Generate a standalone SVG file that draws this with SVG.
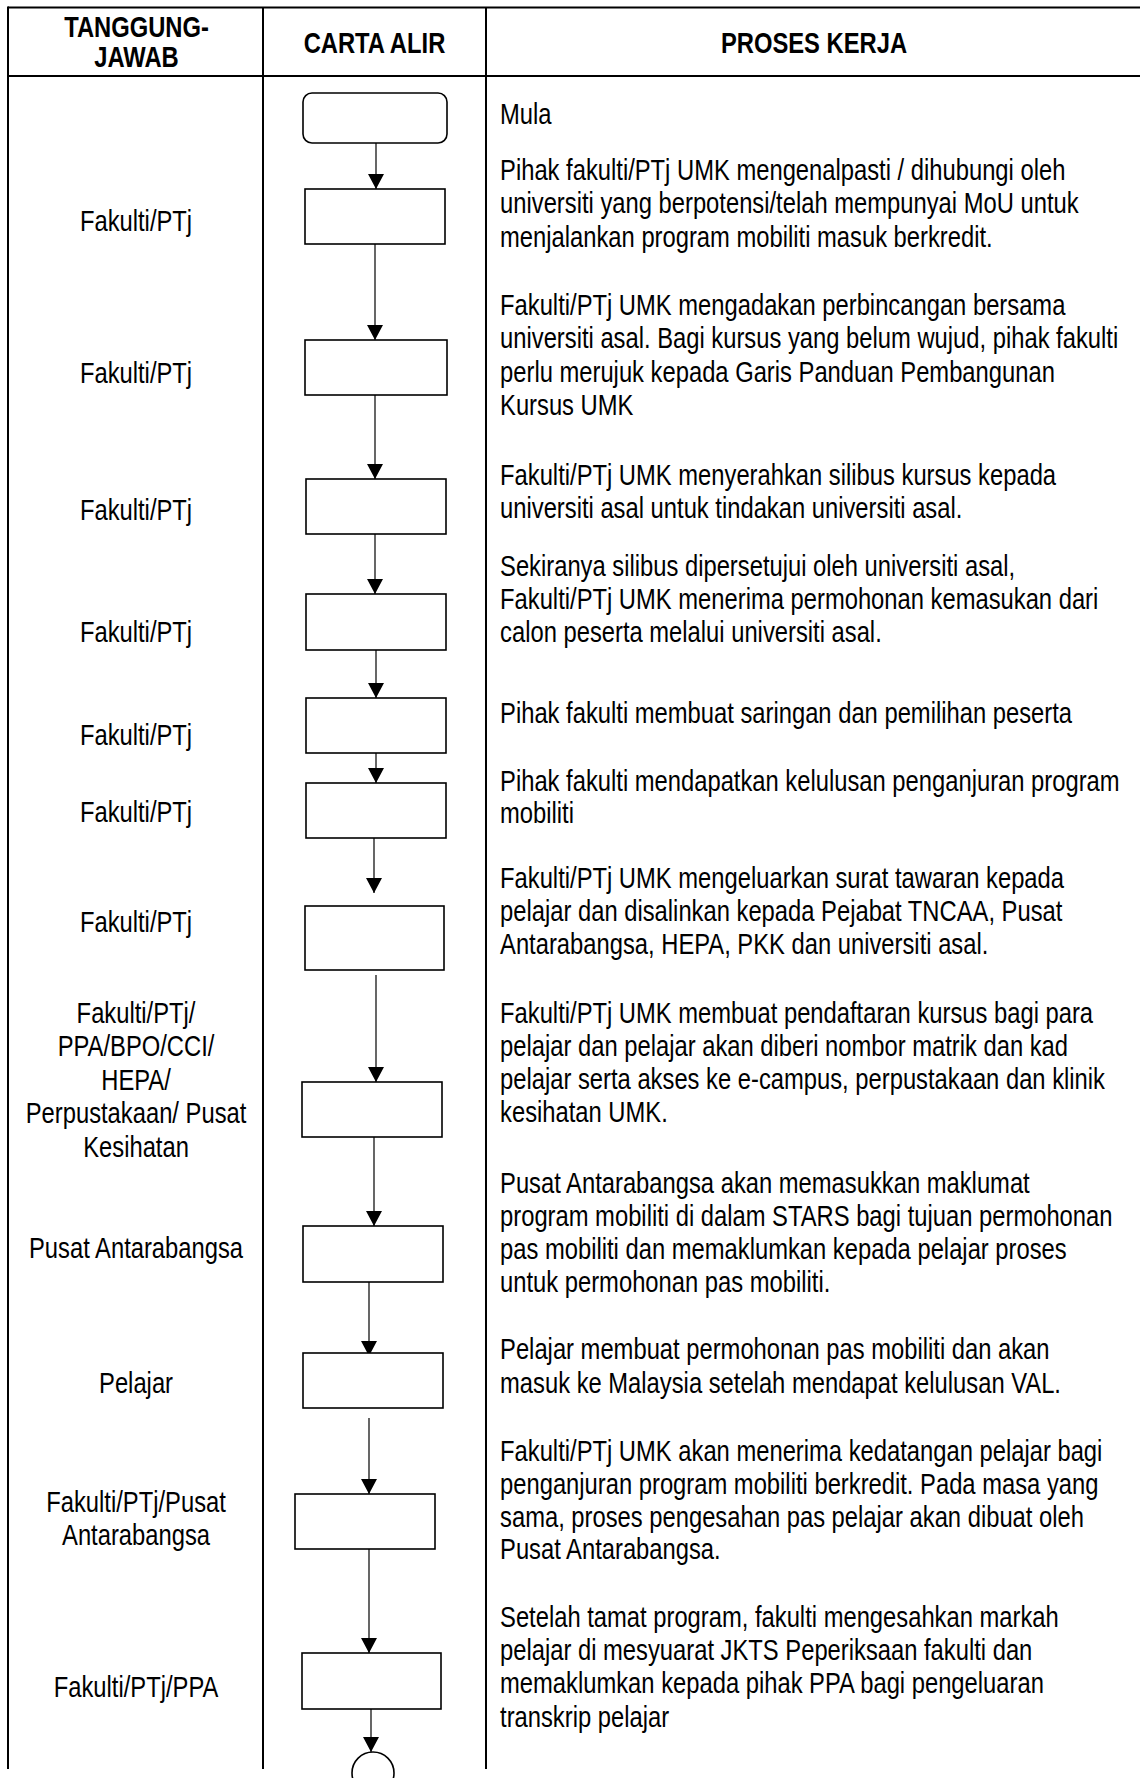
<svg xmlns="http://www.w3.org/2000/svg" width="1140" height="1778" viewBox="0 0 1140 1778">
<style>
.grid{stroke:#000;stroke-width:2;fill:none}
.box{fill:#fff;stroke:#000;stroke-width:1.6}
.conn{stroke:#000;stroke-width:1.2;fill:none;marker-end:url(#arr)}
.t{font-family:"Liberation Sans",Arial,sans-serif;font-size:29px;fill:#000}
.h{font-weight:bold}
.c{text-anchor:middle}
</style>
<defs>
<marker id="arr" viewBox="0 0 15 16" refX="15" refY="8" markerWidth="15" markerHeight="16" markerUnits="userSpaceOnUse" orient="auto">
<path d="M0,0 L15,8 L0,16 Z" fill="#000"/>
</marker>
</defs>
<rect width="1140" height="1778" fill="#fff"/>
<g id="table">
<line class="grid" x1="8" y1="7.5" x2="1140" y2="7.5"/>
<line class="grid" x1="8" y1="76" x2="1140" y2="76"/>
<line class="grid" x1="8" y1="6.5" x2="8" y2="1769"/>
<line class="grid" x1="263" y1="7.5" x2="263" y2="1769"/>
<line class="grid" x1="486" y1="7.5" x2="486" y2="1769"/>
</g>
<g id="connectors">
<line class="conn" x1="376" y1="143" x2="376" y2="189"/>
<line class="conn" x1="375" y1="244" x2="375" y2="340"/>
<line class="conn" x1="375" y1="395" x2="375" y2="479"/>
<line class="conn" x1="375" y1="534" x2="375" y2="594"/>
<line class="conn" x1="376" y1="650" x2="376" y2="698"/>
<line class="conn" x1="376" y1="753" x2="376" y2="783"/>
<line class="conn" x1="374" y1="838" x2="374" y2="893"/>
<line class="conn" x1="376" y1="975" x2="376" y2="1082"/>
<line class="conn" x1="374" y1="1137" x2="374" y2="1226"/>
<line class="conn" x1="369" y1="1280" x2="369" y2="1356"/>
<line class="conn" x1="369" y1="1418" x2="369" y2="1494"/>
<line class="conn" x1="369" y1="1549" x2="369" y2="1653"/>
<line class="conn" x1="371" y1="1709" x2="371" y2="1752"/>
</g>
<g id="start"><rect class="box" x="303" y="93" width="144" height="50" rx="9"/></g>
<g id="step1"><rect class="box" x="305" y="189" width="140" height="55"/></g>
<g id="step2"><rect class="box" x="305" y="340" width="142" height="55"/></g>
<g id="step3"><rect class="box" x="306" y="479" width="140" height="55"/></g>
<g id="step4"><rect class="box" x="306" y="594" width="140" height="56"/></g>
<g id="step5"><rect class="box" x="306" y="698" width="140" height="55"/></g>
<g id="step6"><rect class="box" x="306" y="783" width="140" height="55"/></g>
<g id="step7"><rect class="box" x="305" y="906" width="139" height="64"/></g>
<g id="step8"><rect class="box" x="302" y="1082" width="140" height="55"/></g>
<g id="step9"><rect class="box" x="303" y="1226" width="140" height="56"/></g>
<g id="step10"><rect class="box" x="303" y="1353" width="140" height="55"/></g>
<g id="step11"><rect class="box" x="295" y="1494" width="140" height="55"/></g>
<g id="step12"><rect class="box" x="302" y="1653" width="139" height="56"/></g>
<g id="end"><ellipse class="box" cx="373" cy="1773" rx="21" ry="21"/></g>
<g id="texts" transform="scale(0.82 1)">
<text class="t h c" x="166.5" y="37">TANGGUNG-</text>
<text class="t h c" x="166.5" y="67">JAWAB</text>
<text class="t h c" x="456.7" y="53">CARTA ALIR</text>
<text class="t h c" x="992.7" y="53">PROSES KERJA</text>

<text class="t c" x="165.9" y="231">Fakulti/PTj</text>
<text class="t c" x="165.9" y="383">Fakulti/PTj</text>
<text class="t c" x="165.9" y="520">Fakulti/PTj</text>
<text class="t c" x="165.9" y="642">Fakulti/PTj</text>
<text class="t c" x="165.9" y="745">Fakulti/PTj</text>
<text class="t c" x="165.9" y="822">Fakulti/PTj</text>
<text class="t c" x="165.9" y="932">Fakulti/PTj</text>
<text class="t c" x="165.9" y="1023">Fakulti/PTj/</text>
<text class="t c" x="165.9" y="1056.5">PPA/BPO/CCI/</text>
<text class="t c" x="165.9" y="1090">HEPA/</text>
<text class="t c" x="165.9" y="1123.5">Perpustakaan/ Pusat</text>
<text class="t c" x="165.9" y="1157">Kesihatan</text>
<text class="t c" x="165.9" y="1258">Pusat Antarabangsa</text>
<text class="t c" x="165.9" y="1393">Pelajar</text>
<text class="t c" x="165.9" y="1512">Fakulti/PTj/Pusat</text>
<text class="t c" x="165.9" y="1545">Antarabangsa</text>
<text class="t c" x="165.9" y="1697">Fakulti/PTj/PPA</text>

<text class="t" x="609.8" y="124">Mula</text>
<text class="t" x="609.8" y="180">Pihak fakulti/PTj UMK mengenalpasti / dihubungi oleh</text>
<text class="t" x="609.8" y="213">universiti yang berpotensi/telah mempunyai MoU untuk</text>
<text class="t" x="609.8" y="247">menjalankan program mobiliti masuk berkredit.</text>
<text class="t" x="609.8" y="315">Fakulti/PTj UMK mengadakan perbincangan bersama</text>
<text class="t" x="609.8" y="348">universiti asal. Bagi kursus yang belum wujud, pihak fakulti</text>
<text class="t" x="609.8" y="382">perlu merujuk kepada Garis Panduan Pembangunan</text>
<text class="t" x="609.8" y="415">Kursus UMK</text>
<text class="t" x="609.8" y="485">Fakulti/PTj UMK menyerahkan silibus kursus kepada</text>
<text class="t" x="609.8" y="518">universiti asal untuk tindakan universiti asal.</text>
<text class="t" x="609.8" y="576">Sekiranya silibus dipersetujui oleh universiti asal,</text>
<text class="t" x="609.8" y="609">Fakulti/PTj UMK menerima permohonan kemasukan dari</text>
<text class="t" x="609.8" y="642">calon peserta melalui universiti asal.</text>
<text class="t" x="609.8" y="723">Pihak fakulti membuat saringan dan pemilihan peserta</text>
<text class="t" x="609.8" y="791">Pihak fakulti mendapatkan kelulusan penganjuran program</text>
<text class="t" x="609.8" y="823">mobiliti</text>
<text class="t" x="609.8" y="888">Fakulti/PTj UMK mengeluarkan surat tawaran kepada</text>
<text class="t" x="609.8" y="921">pelajar dan disalinkan kepada Pejabat TNCAA, Pusat</text>
<text class="t" x="609.8" y="954">Antarabangsa, HEPA, PKK dan universiti asal.</text>
<text class="t" x="609.8" y="1023">Fakulti/PTj UMK membuat pendaftaran kursus bagi para</text>
<text class="t" x="609.8" y="1056">pelajar dan pelajar akan diberi nombor matrik dan kad</text>
<text class="t" x="609.8" y="1089">pelajar serta akses ke e-campus, perpustakaan dan klinik</text>
<text class="t" x="609.8" y="1122">kesihatan UMK.</text>
<text class="t" x="609.8" y="1193">Pusat Antarabangsa akan memasukkan maklumat</text>
<text class="t" x="609.8" y="1226">program mobiliti di dalam STARS bagi tujuan permohonan</text>
<text class="t" x="609.8" y="1259">pas mobiliti dan memaklumkan kepada pelajar proses</text>
<text class="t" x="609.8" y="1292">untuk permohonan pas mobiliti.</text>
<text class="t" x="609.8" y="1359">Pelajar membuat permohonan pas mobiliti dan akan</text>
<text class="t" x="609.8" y="1393">masuk ke Malaysia setelah mendapat kelulusan VAL.</text>
<text class="t" x="609.8" y="1461">Fakulti/PTj UMK akan menerima kedatangan pelajar bagi</text>
<text class="t" x="609.8" y="1494">penganjuran program mobiliti berkredit. Pada masa yang</text>
<text class="t" x="609.8" y="1527">sama, proses pengesahan pas pelajar akan dibuat oleh</text>
<text class="t" x="609.8" y="1559">Pusat Antarabangsa.</text>
<text class="t" x="609.8" y="1627">Setelah tamat program, fakulti mengesahkan markah</text>
<text class="t" x="609.8" y="1660">pelajar di mesyuarat JKTS Peperiksaan fakulti dan</text>
<text class="t" x="609.8" y="1693">memaklumkan kepada pihak PPA bagi pengeluaran</text>
<text class="t" x="609.8" y="1727">transkrip pelajar</text>
</g>
</svg>
